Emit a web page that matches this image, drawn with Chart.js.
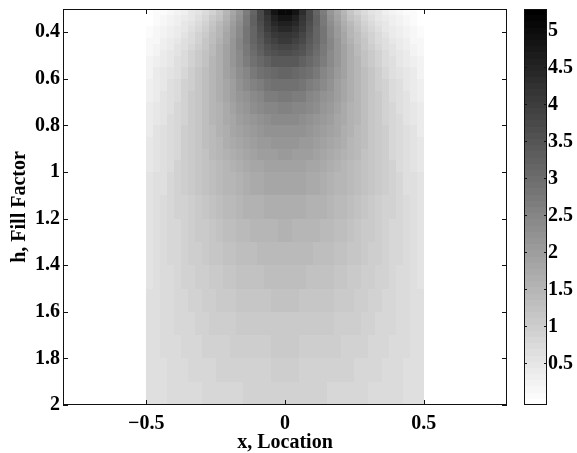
<!DOCTYPE html>
<html><head><meta charset="utf-8">
<script src="https://cdn.jsdelivr.net/npm/chart.js@4/dist/chart.umd.min.js"></script>
<style>html,body{margin:0;padding:0;background:#fff;}#c{display:block;}</style>
</head><body>
<canvas id="c" width="577" height="453"></canvas>
<script>
// ---- data ----
const xEdges = [-0.5,-0.475,-0.45,-0.425,-0.4,-0.375,-0.35,-0.325,-0.3,-0.275,-0.25,-0.225,-0.2,-0.175,-0.15,-0.125,-0.1,-0.075,-0.05,-0.025,0,
  0.025,0.05,0.075,0.1,0.125,0.15,0.175,0.2,0.225,0.25,0.275,0.3,0.325,0.35,0.375,0.4,0.425,0.45,0.475,0.5];
const hEdges = [0.3,0.325,0.35,0.375,0.4,0.425,0.45,0.475,0.5,0.55,0.6,0.65,0.7,0.75,0.8,0.85,0.9,0.95,1.0,
  1.1,1.2,1.3,1.4,1.5,1.6,1.7,1.8,1.9,2.0];
const xTicks = [-0.5, 0, 0.5];
const xTickLabels = ['\u22120.5', '0', '0.5'];
const yTicks = [0.4, 0.6, 0.8, 1, 1.2, 1.4, 1.6, 1.8, 2];
const yTickLabels = ['0.4', '0.6', '0.8', '1', '1.2', '1.4', '1.6', '1.8', '2'];
const cbTicks = [0.5, 1, 1.5, 2, 2.5, 3, 3.5, 4, 4.5, 5];
const cbTickLabels = ['0.5', '1', '1.5', '2', '2.5', '3', '3.5', '4', '4.5', '5'];
const cMin = -0.07, cMax = 5.28;

const row_h03125 = [-0.04,0.02,0.08,0.15,0.23,0.33,0.44,0.58,0.74,0.93,1.16,1.44,1.77,2.18,2.65,3.18,3.76,4.33,4.80,5.06,5.06,4.80,4.33,3.76,3.18,2.65,2.18,1.77,1.44,1.16,0.93,0.74,0.58,0.44,0.33,0.23,0.15,0.08,0.02,-0.04];
const row_h03375 = [-0.01,0.05,0.11,0.19,0.28,0.39,0.51,0.65,0.82,1.02,1.26,1.54,1.87,2.26,2.71,3.20,3.71,4.19,4.57,4.79,4.79,4.57,4.19,3.71,3.20,2.71,2.26,1.87,1.54,1.26,1.02,0.82,0.65,0.51,0.39,0.28,0.19,0.11,0.05,-0.01];
const row_h03625 = [0.01,0.08,0.15,0.24,0.34,0.45,0.58,0.73,0.91,1.11,1.36,1.64,1.97,2.34,2.76,3.21,3.66,4.07,4.40,4.58,4.58,4.40,4.07,3.66,3.21,2.76,2.34,1.97,1.64,1.36,1.11,0.91,0.73,0.58,0.45,0.34,0.24,0.15,0.08,0.01];
const row_h03875 = [0.04,0.11,0.19,0.28,0.39,0.51,0.64,0.80,0.98,1.20,1.44,1.72,2.04,2.40,2.79,3.19,3.60,3.96,4.23,4.38,4.38,4.23,3.96,3.60,3.19,2.79,2.40,2.04,1.72,1.44,1.20,0.98,0.80,0.64,0.51,0.39,0.28,0.19,0.11,0.04];
const row_h04125 = [0.07,0.14,0.23,0.33,0.43,0.56,0.70,0.87,1.05,1.27,1.51,1.79,2.09,2.43,2.79,3.16,3.52,3.83,4.07,4.19,4.19,4.07,3.83,3.52,3.16,2.79,2.43,2.09,1.79,1.51,1.27,1.05,0.87,0.70,0.56,0.43,0.33,0.23,0.14,0.07];
const row_h04375 = [0.10,0.18,0.27,0.37,0.49,0.62,0.76,0.93,1.12,1.33,1.57,1.84,2.14,2.45,2.79,3.12,3.44,3.71,3.92,4.03,4.03,3.92,3.71,3.44,3.12,2.79,2.45,2.14,1.84,1.57,1.33,1.12,0.93,0.76,0.62,0.49,0.37,0.27,0.18,0.10];
const row_h04625 = [0.13,0.22,0.31,0.41,0.53,0.66,0.81,0.98,1.17,1.38,1.61,1.87,2.15,2.45,2.76,3.06,3.34,3.58,3.76,3.85,3.85,3.76,3.58,3.34,3.06,2.76,2.45,2.15,1.87,1.61,1.38,1.17,0.98,0.81,0.66,0.53,0.41,0.31,0.22,0.13];
const row_h04875 = [0.17,0.25,0.35,0.45,0.57,0.71,0.86,1.02,1.21,1.42,1.64,1.89,2.15,2.43,2.71,2.98,3.24,3.45,3.60,3.68,3.68,3.60,3.45,3.24,2.98,2.71,2.43,2.15,1.89,1.64,1.42,1.21,1.02,0.86,0.71,0.57,0.45,0.35,0.25,0.17];
const row_h0525  = [0.21,0.30,0.40,0.50,0.63,0.76,0.91,1.07,1.26,1.45,1.67,1.90,2.14,2.38,2.63,2.86,3.08,3.25,3.38,3.44,3.44,3.38,3.25,3.08,2.86,2.63,2.38,2.14,1.90,1.67,1.45,1.26,1.07,0.91,0.76,0.63,0.50,0.40,0.30,0.21];
const row_h0575  = [0.26,0.35,0.45,0.56,0.68,0.81,0.96,1.12,1.29,1.47,1.67,1.87,2.08,2.29,2.49,2.69,2.86,3.00,3.09,3.14,3.14,3.09,3.00,2.86,2.69,2.49,2.29,2.08,1.87,1.67,1.47,1.29,1.12,0.96,0.81,0.68,0.56,0.45,0.35,0.26];
const row_h0625  = [0.30,0.40,0.50,0.61,0.73,0.86,1.00,1.14,1.30,1.47,1.65,1.83,2.01,2.19,2.37,2.53,2.67,2.78,2.86,2.90,2.90,2.86,2.78,2.67,2.53,2.37,2.19,2.01,1.83,1.65,1.47,1.30,1.14,1.00,0.86,0.73,0.61,0.50,0.40,0.30];
const row_h0675  = [0.34,0.43,0.54,0.64,0.76,0.89,1.02,1.16,1.31,1.47,1.63,1.79,1.96,2.12,2.26,2.40,2.52,2.61,2.67,2.71,2.71,2.67,2.61,2.52,2.40,2.26,2.12,1.96,1.79,1.63,1.47,1.31,1.16,1.02,0.89,0.76,0.64,0.54,0.43,0.34];
const row_h0725  = [0.37,0.46,0.57,0.67,0.79,0.91,1.04,1.17,1.31,1.46,1.60,1.75,1.89,2.03,2.16,2.28,2.38,2.46,2.51,2.54,2.54,2.51,2.46,2.38,2.28,2.16,2.03,1.89,1.75,1.60,1.46,1.31,1.17,1.04,0.91,0.79,0.67,0.57,0.46,0.37];
const row_h0775  = [0.40,0.49,0.59,0.70,0.81,0.93,1.05,1.17,1.30,1.44,1.57,1.70,1.83,1.95,2.07,2.17,2.25,2.32,2.36,2.39,2.39,2.36,2.32,2.25,2.17,2.07,1.95,1.83,1.70,1.57,1.44,1.30,1.17,1.05,0.93,0.81,0.70,0.59,0.49,0.40];
const row_h0825  = [0.42,0.52,0.61,0.72,0.82,0.94,1.05,1.17,1.29,1.41,1.54,1.65,1.77,1.88,1.98,2.07,2.14,2.20,2.24,2.26,2.26,2.24,2.20,2.14,2.07,1.98,1.88,1.77,1.65,1.54,1.41,1.29,1.17,1.05,0.94,0.82,0.72,0.61,0.52,0.42];
const row_h0875  = [0.45,0.54,0.63,0.73,0.84,0.94,1.05,1.16,1.27,1.39,1.50,1.61,1.71,1.81,1.89,1.97,2.04,2.09,2.12,2.14,2.14,2.12,2.09,2.04,1.97,1.89,1.81,1.71,1.61,1.50,1.39,1.27,1.16,1.05,0.94,0.84,0.73,0.63,0.54,0.45];
const row_h0925  = [0.47,0.56,0.65,0.75,0.84,0.94,1.05,1.15,1.25,1.36,1.46,1.56,1.65,1.74,1.81,1.88,1.94,1.98,2.01,2.03,2.03,2.01,1.98,1.94,1.88,1.81,1.74,1.65,1.56,1.46,1.36,1.25,1.15,1.05,0.94,0.84,0.75,0.65,0.56,0.47];
const row_h0975  = [0.49,0.58,0.66,0.75,0.85,0.94,1.04,1.14,1.23,1.33,1.42,1.51,1.59,1.67,1.74,1.80,1.85,1.89,1.92,1.93,1.93,1.92,1.89,1.85,1.80,1.74,1.67,1.59,1.51,1.42,1.33,1.23,1.14,1.04,0.94,0.85,0.75,0.66,0.58,0.49];
const row_h105   = [0.52,0.60,0.68,0.77,0.85,0.94,1.03,1.11,1.20,1.28,1.36,1.44,1.51,1.58,1.64,1.69,1.73,1.77,1.79,1.80,1.80,1.79,1.77,1.73,1.69,1.64,1.58,1.51,1.44,1.36,1.28,1.20,1.11,1.03,0.94,0.85,0.77,0.68,0.60,0.52];
const row_h115   = [0.55,0.62,0.70,0.77,0.85,0.93,1.00,1.08,1.15,1.22,1.29,1.36,1.42,1.47,1.52,1.56,1.60,1.62,1.64,1.65,1.65,1.64,1.62,1.60,1.56,1.52,1.47,1.42,1.36,1.29,1.22,1.15,1.08,1.00,0.93,0.85,0.77,0.70,0.62,0.55];
const row_h125   = [0.56,0.63,0.70,0.77,0.84,0.91,0.97,1.04,1.10,1.16,1.22,1.28,1.33,1.37,1.41,1.45,1.48,1.50,1.51,1.52,1.52,1.51,1.50,1.48,1.45,1.41,1.37,1.33,1.28,1.22,1.16,1.10,1.04,0.97,0.91,0.84,0.77,0.70,0.63,0.56];
const row_h135   = [0.58,0.64,0.70,0.77,0.83,0.89,0.94,1.00,1.06,1.11,1.16,1.21,1.25,1.29,1.32,1.35,1.37,1.39,1.40,1.41,1.41,1.40,1.39,1.37,1.35,1.32,1.29,1.25,1.21,1.16,1.11,1.06,1.00,0.94,0.89,0.83,0.77,0.70,0.64,0.58];
const row_h145   = [0.59,0.65,0.70,0.75,0.80,0.86,0.91,0.95,1.00,1.04,1.09,1.12,1.16,1.19,1.22,1.24,1.26,1.28,1.28,1.29,1.29,1.28,1.28,1.26,1.24,1.22,1.19,1.16,1.12,1.09,1.04,1.00,0.95,0.91,0.86,0.80,0.75,0.70,0.65,0.59];
const row_h155   = [0.60,0.65,0.70,0.74,0.79,0.83,0.87,0.91,0.95,0.99,1.02,1.05,1.08,1.11,1.13,1.15,1.17,1.18,1.19,1.19,1.19,1.19,1.18,1.17,1.15,1.13,1.11,1.08,1.05,1.02,0.99,0.95,0.91,0.87,0.83,0.79,0.74,0.70,0.65,0.60];
const row_h165   = [0.62,0.65,0.69,0.73,0.77,0.81,0.84,0.87,0.91,0.94,0.96,0.99,1.01,1.03,1.05,1.07,1.08,1.09,1.10,1.10,1.10,1.10,1.09,1.08,1.07,1.05,1.03,1.01,0.99,0.96,0.94,0.91,0.87,0.84,0.81,0.77,0.73,0.69,0.65,0.62];
const row_h175   = [0.62,0.66,0.69,0.72,0.75,0.78,0.81,0.84,0.86,0.89,0.91,0.93,0.95,0.97,0.98,0.99,1.00,1.01,1.02,1.02,1.02,1.02,1.01,1.00,0.99,0.98,0.97,0.95,0.93,0.91,0.89,0.86,0.84,0.81,0.78,0.75,0.72,0.69,0.66,0.62];
const row_h185   = [0.63,0.66,0.68,0.71,0.73,0.75,0.78,0.80,0.82,0.84,0.86,0.87,0.89,0.90,0.91,0.92,0.93,0.93,0.94,0.94,0.94,0.94,0.93,0.93,0.92,0.91,0.90,0.89,0.87,0.86,0.84,0.82,0.80,0.78,0.75,0.73,0.71,0.68,0.66,0.63];
const row_h195   = [0.64,0.66,0.68,0.69,0.71,0.73,0.75,0.76,0.78,0.79,0.81,0.82,0.83,0.84,0.85,0.86,0.86,0.87,0.87,0.87,0.87,0.87,0.87,0.86,0.86,0.85,0.84,0.83,0.82,0.81,0.79,0.78,0.76,0.75,0.73,0.71,0.69,0.68,0.66,0.64];

const rows = [row_h03125,row_h03375,row_h03625,row_h03875,row_h04125,row_h04375,row_h04625,row_h04875,
  row_h0525,row_h0575,row_h0625,row_h0675,row_h0725,row_h0775,row_h0825,row_h0875,row_h0925,row_h0975,
  row_h105,row_h115,row_h125,row_h135,row_h145,row_h155,row_h165,row_h175,row_h185,row_h195];

// ---- build cells for the chart ----
const cells = [];
rows.forEach((row, r) => row.forEach((v, c) => cells.push({
  x: (xEdges[c] + xEdges[c + 1]) / 2, y: (hEdges[r] + hEdges[r + 1]) / 2,
  x0: xEdges[c], x1: xEdges[c + 1], y0: hEdges[r], y1: hEdges[r + 1], v
})));

const NLEV = 64;
function levelOf(v) {
  const k = Math.floor((v - cMin) / (cMax - cMin) * NLEV);
  return Math.max(0, Math.min(NLEV - 1, k));
}
function grayOfLevel(k) {
  const g = Math.round(255 * (1 - k / (NLEV - 1)));
  return 'rgb(' + g + ',' + g + ',' + g + ')';
}

const FONT = "'Liberation Serif','Times New Roman',serif";
const tickFont = { family: FONT, size: 20, weight: 'bold', lineHeight: 1.2 };
const titleFont = { family: FONT, size: 20, weight: 'bold', lineHeight: 1.0 };
const CB_L = 524, CB_R = 547;

const heatPlugin = {
  id: 'heat',
  beforeDatasetsDraw(chart) {
    const { ctx, scales: { x, y } } = chart;
    ctx.save();
    for (const c of chart.data.datasets[0].data) {
      const a = Math.round(x.getPixelForValue(c.x0)), b = Math.round(x.getPixelForValue(c.x1));
      const p = Math.round(y.getPixelForValue(c.y0)), q = Math.round(y.getPixelForValue(c.y1));
      ctx.fillStyle = grayOfLevel(levelOf(c.v));
      ctx.fillRect(Math.min(a, b), Math.min(p, q), Math.abs(b - a), Math.abs(q - p));
    }
    ctx.restore();
  },
  afterDraw(chart) {
    const { ctx, chartArea: ca, scales: { x, y, cb } } = chart;
    ctx.save();
    ctx.strokeStyle = '#111';
    ctx.lineWidth = 1;
    ctx.strokeRect(ca.left + 0.5, ca.top + 0.5, ca.right - ca.left - 1, ca.bottom - ca.top - 1);
    ctx.beginPath();
    const TL = 5;
    xTicks.forEach(v => {
      const px = Math.round(x.getPixelForValue(v)) + 0.5;
      ctx.moveTo(px, ca.bottom); ctx.lineTo(px, ca.bottom - TL);
      ctx.moveTo(px, ca.top); ctx.lineTo(px, ca.top + TL);
    });
    yTicks.forEach(v => {
      const py = Math.round(y.getPixelForValue(v)) + 0.5;
      ctx.moveTo(ca.left, py); ctx.lineTo(ca.left + TL, py);
      ctx.moveTo(ca.right, py); ctx.lineTo(ca.right - TL, py);
    });
    ctx.stroke();
    // colorbar
    for (let k = 0; k < NLEV; k++) {
      const v0 = cMin + k * (cMax - cMin) / NLEV, v1 = cMin + (k + 1) * (cMax - cMin) / NLEV;
      const p0 = Math.round(cb.getPixelForValue(v0)), p1 = Math.round(cb.getPixelForValue(v1));
      ctx.fillStyle = grayOfLevel(k);
      ctx.fillRect(CB_L, p1, CB_R - CB_L, p0 - p1);
    }
    const cbTop = Math.round(cb.getPixelForValue(cMax)), cbBot = Math.round(cb.getPixelForValue(cMin));
    ctx.strokeRect(CB_L + 0.5, cbTop + 0.5, CB_R - CB_L - 1, cbBot - cbTop - 1);
    ctx.beginPath();
    cbTicks.forEach(v => {
      const py = Math.round(cb.getPixelForValue(v)) + 0.5;
      ctx.moveTo(CB_L, py); ctx.lineTo(CB_L + 3, py);
      ctx.moveTo(CB_R, py); ctx.lineTo(CB_R - 3, py);
    });
    ctx.stroke();
    ctx.fillStyle = '#000';
    ctx.font = 'bold 20px ' + FONT;
    ctx.textAlign = 'left';
    ctx.textBaseline = 'middle';
    cbTicks.forEach((v, i) => {
      ctx.fillText(cbTickLabels[i], CB_R + 1, cb.getPixelForValue(v) + 1);
    });
    ctx.restore();
  }
};

new Chart(document.getElementById('c'), {
  type: 'scatter',
  data: { datasets: [{ data: cells, pointRadius: 0, pointHoverRadius: 0, showLine: false }] },
  options: {
    responsive: false, animation: false, devicePixelRatio: 1,
    layout: { padding: { top: 9, right: 70, left: 0, bottom: 0 } },
    plugins: { legend: { display: false }, tooltip: { enabled: false } },
    scales: {
      x: {
        type: 'linear', min: -0.8, max: 0.8,
        afterBuildTicks: s => { s.ticks = xTicks.map(v => ({ value: v })); },
        afterFit: s => { s.height = 48; s.paddingLeft = 0; s.paddingRight = 0; },
        grid: { display: false, drawTicks: false }, border: { display: false },
        ticks: { font: tickFont, color: '#000', padding: 7, maxRotation: 0, autoSkip: false,
          callback: v => xTickLabels[xTicks.indexOf(v)] },
        title: { display: true, text: 'x, Location', font: titleFont, color: '#000', padding: { top: 0, bottom: 0 } }
      },
      y: {
        type: 'linear', min: 0.3, max: 2.0, reverse: true,
        afterBuildTicks: s => { s.ticks = yTicks.map(v => ({ value: v })); },
        afterFit: s => { s.width = 63; s.paddingTop = 0; s.paddingBottom = 0; },
        grid: { display: false, drawTicks: false }, border: { display: false },
        ticks: { font: tickFont, color: '#000', padding: 3, autoSkip: false,
          callback: v => yTickLabels[yTicks.indexOf(v)] },
        title: { display: true, text: 'h, Fill Factor', font: titleFont, color: '#000', padding: { top: 10, bottom: 0 } }
      },
      cb: { type: 'linear', position: 'right', display: false, min: cMin, max: cMax,
        afterFit: s => { s.paddingTop = 0; s.paddingBottom = 0; } }
    }
  },
  plugins: [heatPlugin]
});
</script>
</body></html>
